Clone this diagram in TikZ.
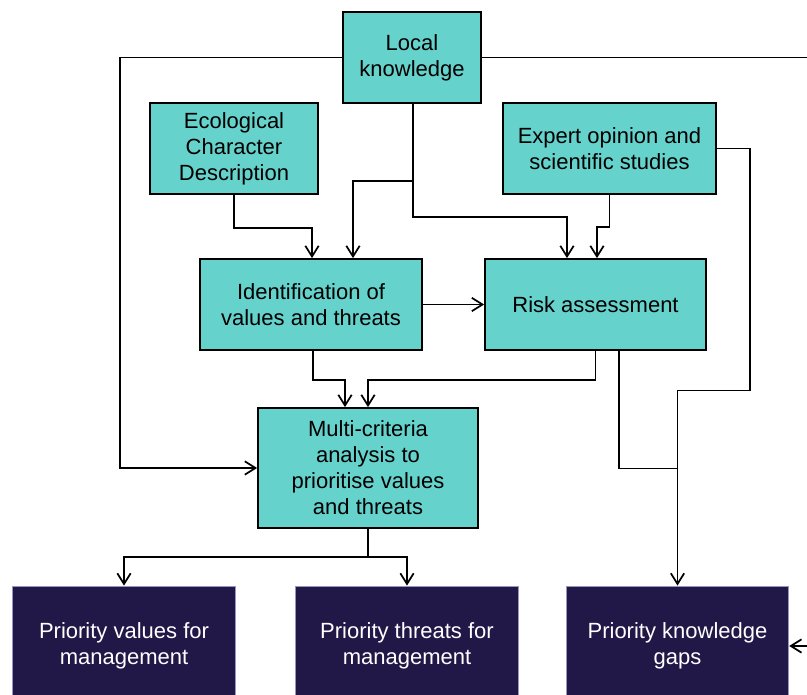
\documentclass[tikz,border=0pt]{standalone}
\usepackage{fontspec}
\setmainfont{Liberation Sans}
\usetikzlibrary{calc,arrows.meta}
\definecolor{boxteal}{RGB}{102,210,204}
\definecolor{boxnavy}{RGB}{33,24,72}
\definecolor{navyedge}{RGB}{150,150,190}
\tikzset{
	tealbox/.style={draw=black, line width=1.3pt, fill=boxteal, align=center, inner sep=0pt, minimum height=68.25pt, font=\fontsize{16.5}{19.5}\selectfont},
	navybox/.style={draw=navyedge, line width=0.6pt, fill=boxnavy, text=white, align=center, inner sep=0pt, minimum width=167pt, minimum height=90pt, font=\fontsize{16.5}{19.5}\selectfont},
	flow/.style={line width=1.3pt, -{Straight Barb[length=8pt,width=10pt]}},
	link/.style={line width=1.3pt}
}

\begin{document}
\begin{tikzpicture}[x=0.75pt, y=-0.75pt]
			%%%%% START %%%%%
			\useasboundingbox (0,0) rectangle (807,695);
			
			\node[tealbox, minimum width=103.5pt] (local) at (412,57.5) {Local\\knowledge};
			\node[tealbox, minimum width=126pt] (ecd) at (234,148.5) {Ecological\\Character\\Description};
			\node[tealbox, minimum width=159.75pt] (expert) at (609.5,148.5) {Expert opinion and\\scientific studies};
			
			\node[tealbox, minimum width=166.5pt] (ident) at (311,304.5) {Identification of\\values and threats};
			\node[tealbox, minimum width=165.75pt] (risk) at (595.5,304.5) {Risk assessment};
			
			\node[tealbox, minimum width=165pt, minimum height=90pt] (multi) at (368,468) {Multi-criteria\\analysis to\\prioritise values\\and threats};
			
			\node[navybox] (pvalues) at (124,646) {Priority values for\\management};
			\node[navybox] (pthreats) at (407,646) {Priority threats for\\management};
			\node[navybox] (gaps) at (677.5,646) {Priority knowledge\\gaps};
			
			% local knowledge
			\draw[flow] (local.west) -- ++(-222,0) |- (multi.west);
			\draw[flow] (local.east) -- ++(400,0) |- (gaps.east);
			\draw[flow] ($(local.south)+(1,0)$) -- ++(0,77) -| ($(ident.north)+(42,0)$);
			\draw[flow] ($(local.south)+(1,0)$) -- ++(0,113) -| ($(risk.north)+(-28.5,0)$);
			
			% ecd and expert
			\draw[flow] (ecd.south) -- ++(0,33) -| ($(ident.north)+(1,0)$);
			\draw[flow] (expert.south) -- ++(0,32) -| ($(risk.north)+(1.5,0)$);
			\draw[flow] (expert.east) -| ++(33,242) -| (gaps.north);
			
			% middle row
			\draw[flow] (ident.east) -- (risk.west);
			\draw[flow] ($(ident.south)+(2,0)$) -- ++(0,29) -| ($(multi.north)+(-23,0)$);
			\draw[flow] (risk.south) -- ++(0,29) -| (multi.north);
			\draw[link] ($(risk.south)+(23.5,0)$) |- ($(gaps.north)+(0,-117)$);
			
			% outputs
			\draw[link] (multi.south) -- ++(0,28) coordinate (msplit);
			\draw[flow] (msplit) -| (pvalues.north);
			\draw[flow] (msplit) -| (pthreats.north);
			%%%%% END %%%%%
\end{tikzpicture}
\end{document}
